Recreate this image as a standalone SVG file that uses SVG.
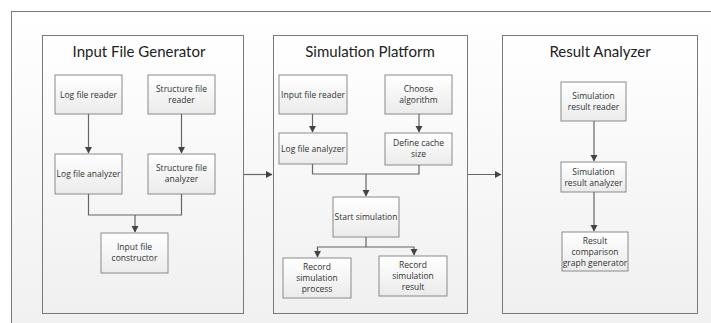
<svg xmlns="http://www.w3.org/2000/svg" width="711" height="323" viewBox="0 0 711 323">
<style>
.panel{stroke:#7a7a7a;stroke-width:1;fill:url(#gp)}
.node{stroke:#8a8a8a;stroke-width:1;fill:url(#gn)}
.title{font-family:Lato,"Open Sans","Liberation Sans",sans-serif;font-size:15px;fill:#222;text-anchor:middle}
.lbl{font-family:"Open Sans","Liberation Sans",sans-serif;font-size:8.5px;fill:#333;text-anchor:middle}
.con{fill:none;stroke:#666;stroke-width:1.2}
</style>
<defs>
<linearGradient id="gb" x1="0" y1="0" x2="0" y2="1"><stop offset="0" stop-color="#ffffff"/><stop offset="1" stop-color="#f0f0f0"/></linearGradient>
<linearGradient id="gp" x1="0" y1="0" x2="0" y2="1"><stop offset="0" stop-color="#ffffff"/><stop offset="1" stop-color="#f0f0f0"/></linearGradient>
<linearGradient id="gn" x1="0" y1="0" x2="0" y2="1"><stop offset="0" stop-color="#ffffff"/><stop offset="1" stop-color="#ebebeb"/></linearGradient>
<marker id="ar" markerWidth="8" markerHeight="8" refX="6" refY="3.5" orient="auto" markerUnits="userSpaceOnUse"><path d="M0,0 L6.5,3.5 L0,7 z" fill="#444"/></marker>
</defs>
<rect x="0" y="0" width="711" height="323" fill="#ffffff"/>
<g id="frame"><rect x="11.5" y="11.5" width="720" height="330" fill="url(#gb)" stroke="#7a7a7a"/></g>
<g id="panel-input"><rect class="panel" x="42.5" y="35.5" width="201" height="278"/><text class="title" x="139" y="57">Input File Generator</text></g>
<g id="panel-sim"><rect class="panel" x="273.5" y="35.5" width="194" height="278"/><text class="title" x="370" y="57">Simulation Platform</text></g>
<g id="panel-result"><rect class="panel" x="502.5" y="35.5" width="195" height="278"/><text class="title" x="600" y="57">Result Analyzer</text></g>

<g id="n-logreader"><rect class="node" x="55" y="75" width="67" height="39"/><text class="lbl" x="88.5" y="97.5">Log file reader</text></g>
<g id="n-structreader"><rect class="node" x="148" y="75" width="67" height="39"/><text class="lbl" x="181.5" y="92">Structure file</text><text class="lbl" x="181.5" y="103">reader</text></g>
<g id="n-loganalyzer"><rect class="node" x="55" y="154" width="67" height="40"/><text class="lbl" x="88.5" y="177">Log file analyzer</text></g>
<g id="n-structanalyzer"><rect class="node" x="148" y="154" width="67" height="40"/><text class="lbl" x="181.5" y="171">Structure file</text><text class="lbl" x="181.5" y="182">analyzer</text></g>
<g id="n-constructor"><rect class="node" x="101" y="233" width="67" height="40"/><text class="lbl" x="134.5" y="250">Input file</text><text class="lbl" x="134.5" y="261">constructor</text></g>

<g id="n-inputreader"><rect class="node" x="279" y="75" width="68" height="39"/><text class="lbl" x="313" y="97.5">Input file reader</text></g>
<g id="n-algorithm"><rect class="node" x="385" y="75" width="67" height="39"/><text class="lbl" x="418.5" y="92">Choose</text><text class="lbl" x="418.5" y="103">algorithm</text></g>
<g id="n-loganalyzer2"><rect class="node" x="279" y="133" width="68" height="31"/><text class="lbl" x="313" y="152">Log file analyzer</text></g>
<g id="n-cache"><rect class="node" x="385" y="133" width="67" height="32"/><text class="lbl" x="418.5" y="146">Define cache</text><text class="lbl" x="418.5" y="157">size</text></g>
<g id="n-start"><rect class="node" x="333" y="197" width="66" height="40"/><text class="lbl" x="366" y="220">Start simulation</text></g>
<g id="n-recproc"><rect class="node" x="283" y="258" width="68" height="40"/><text class="lbl" x="317" y="269.5">Record</text><text class="lbl" x="317" y="280.5">simulation</text><text class="lbl" x="317" y="291.5">process</text></g>
<g id="n-recres"><rect class="node" x="379" y="256" width="68" height="40"/><text class="lbl" x="413" y="267.5">Record</text><text class="lbl" x="413" y="278.5">simulation</text><text class="lbl" x="413" y="289.5">result</text></g>

<g id="n-resreader"><rect class="node" x="561" y="82" width="65" height="39"/><text class="lbl" x="593.5" y="99">Simulation</text><text class="lbl" x="593.5" y="110">result reader</text></g>
<g id="n-resanalyzer"><rect class="node" x="561" y="162" width="65" height="30"/><text class="lbl" x="593.5" y="175">Simulation</text><text class="lbl" x="593.5" y="186">result analyzer</text></g>
<g id="n-graph"><rect class="node" x="562" y="232" width="66" height="39"/><text class="lbl" x="595" y="244">Result</text><text class="lbl" x="595" y="255">comparison</text><text class="lbl" x="595" y="266">graph generator</text></g>

<g id="connectors">
<path class="con" d="M88.5,114 V153" marker-end="url(#ar)"/>
<path class="con" d="M181.5,114 V153" marker-end="url(#ar)"/>
<path class="con" d="M88.5,194 V215 H181.5 V194"/>
<path class="con" d="M135,215 V232" marker-end="url(#ar)"/>
<path class="con" d="M312.5,114 V132" marker-end="url(#ar)"/>
<path class="con" d="M419,114 V132" marker-end="url(#ar)"/>
<path class="con" d="M312.5,164 V174 H419 V165"/>
<path class="con" d="M366,174 V196" marker-end="url(#ar)"/>
<path class="con" d="M366,237 V247 H317.5 V257"/>
<path class="con" d="M366,247 H414 V255" marker-end="url(#ar)"/>
<path class="con" d="M317.5,247 V257" marker-end="url(#ar)"/>
<path class="con" d="M594,121 V161" marker-end="url(#ar)"/>
<path class="con" d="M594,192 V231" marker-end="url(#ar)"/>
<path class="con" d="M244,174.5 H272" marker-end="url(#ar)"/>
<path class="con" d="M468,174.5 H501" marker-end="url(#ar)"/>
</g>
</svg>
